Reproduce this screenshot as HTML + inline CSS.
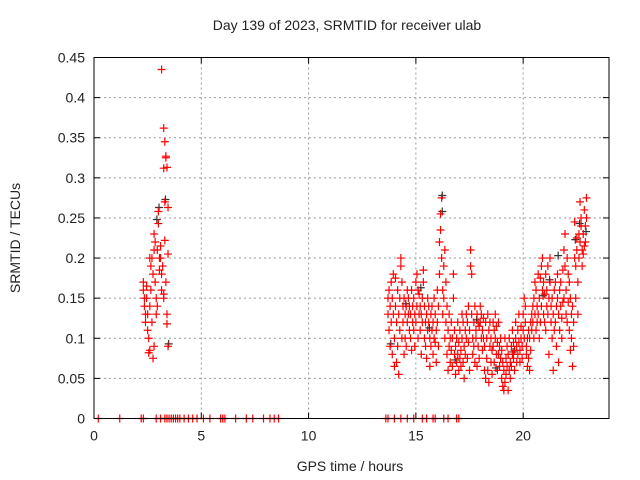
<!DOCTYPE html>
<html><head><meta charset="utf-8"><style>
html,body{margin:0;padding:0;background:#fff}
svg{display:block}
text{font-family:"Liberation Sans",sans-serif;font-size:14px;fill:#222}
</style></head><body>
<svg id="chart" width="640" height="480">
<text x="347" y="30" text-anchor="middle">Day 139 of 2023, SRMTID for receiver ulab</text>
<text x="350" y="471" text-anchor="middle">GPS time / hours</text>
<text transform="translate(20,238) rotate(-90)" text-anchor="middle">SRMTID / TECUs</text>
<g id="grid"></g>
<g id="ticks"></g>
<g id="black"></g>
<g id="red"></g>
<rect x="94" y="57.5" width="515" height="361" fill="none" stroke="#000" stroke-width="1"/>
</svg>
<script>
const xTicks=[0,5,10,15,20];
const yTicks=[0,0.05,0.1,0.15,0.2,0.25,0.3,0.35,0.4,0.45];
const yTickLabels=["0","0.05","0.1","0.15","0.2","0.25","0.3","0.35","0.4","0.45"];
const zeroHours=[0.2,1.2,2.2,2.3,2.9,3.1,3.3,3.4,3.5,3.6,3.7,3.8,3.9,4.0,4.2,4.4,4.6,4.8,5.1,5.4,5.9,6.0,6.1,6.6,7.1,7.4,7.9,8.2,8.4,8.6,13.6,13.7,14.0,14.3,14.6,14.9,15.3,15.5,15.8,15.9,16.3,16.5,16.9,17.0];
const blackPoints=[[3.0,0.26],[3.3,0.27],[3.45,0.09],[2.9,0.245],[16.2,0.275],[16.2,0.255],[14.5,0.14],[15.2,0.16],[17.8,0.12],[19.5,0.08],[21.6,0.2],[22.4,0.22],[22.6,0.24],[20.9,0.15],[13.8,0.09],[16.8,0.07],[18.7,0.06],[21.2,0.17],[22.9,0.23],[15.6,0.11]];
const redPoints=[
[2.3,0.17],[2.3,0.16],[2.35,0.15],[2.35,0.14],[2.4,0.13],[2.4,0.12],[2.45,0.15],[2.45,0.165],[2.5,0.11],[2.5,0.13],[2.55,0.1],[2.55,0.082],[2.6,0.085],[2.6,0.14],[2.65,0.16],[2.65,0.19],[2.7,0.12],[2.7,0.2],[2.75,0.18],[2.75,0.075],[2.8,0.09],[2.8,0.23],[2.85,0.22],[2.85,0.17],[2.9,0.13],[2.9,0.15],[2.95,0.21],[2.95,0.14],[3.0,0.258],[3.0,0.243],[3.05,0.2],[3.05,0.185],[3.1,0.215],[3.1,0.2],[3.15,0.18],[3.15,0.16],[3.15,0.435],[3.2,0.19],[3.25,0.15],[3.25,0.312],[3.25,0.362],[3.3,0.345],[3.3,0.222],[3.35,0.327],[3.3,0.27],[3.35,0.17],[3.4,0.313],[3.4,0.13],[3.4,0.118],[3.45,0.263],[3.45,0.09],[3.45,0.205],[3.35,0.325],[3.25,0.155],[2.6,0.2],[2.8,0.21],
[13.7,0.15],[13.7,0.13],[13.75,0.11],[13.75,0.16],[13.8,0.09],[13.8,0.14],[13.85,0.17],[13.85,0.12],[13.9,0.08],[13.9,0.15],[13.95,0.18],[13.95,0.13],[14.0,0.065],[14.0,0.1],[14.05,0.14],[14.05,0.175],[14.1,0.07],[14.1,0.12],[14.15,0.16],[14.15,0.09],[14.2,0.055],[14.2,0.13],[14.25,0.15],[14.25,0.11],[14.3,0.2],[14.3,0.19],[14.35,0.17],[14.35,0.1],[14.4,0.14],[14.4,0.12],[14.45,0.15],[14.45,0.08],[14.5,0.13],[14.5,0.1],[14.55,0.14],[14.55,0.09],[14.6,0.16],[14.6,0.12],[14.65,0.13],[14.65,0.15],[14.7,0.11],[14.7,0.14],[14.75,0.1],[14.75,0.13],[14.8,0.16],[14.8,0.085],[14.85,0.12],[14.85,0.14],[14.9,0.15],[14.9,0.11],[14.95,0.13],[14.95,0.09],[15.0,0.17],[15.0,0.12],[15.05,0.18],[15.05,0.14],[15.1,0.16],[15.1,0.1],[15.15,0.13],[15.15,0.155],[15.2,0.11],[15.2,0.14],[15.25,0.08],[15.25,0.13],[15.3,0.12],[15.3,0.15],[15.35,0.185],[15.35,0.17],[15.4,0.1],[15.4,0.14],[15.45,0.09],[15.45,0.12],[15.5,0.13],[15.5,0.075],[15.55,0.15],[15.55,0.11],[15.6,0.12],[15.6,0.14],[15.65,0.1],[15.65,0.065],[15.7,0.13],[15.7,0.09],[15.75,0.11],[15.75,0.14],[15.8,0.12],[15.8,0.08],[15.85,0.1],[15.85,0.15],[15.9,0.095],[15.9,0.13],[15.95,0.11],[15.95,0.07],[16.0,0.12],[16.0,0.16],[16.05,0.14],[16.05,0.09],[16.1,0.22],[16.1,0.18],[16.15,0.255],[16.15,0.235],[16.2,0.275],[16.2,0.2],[16.25,0.16],[16.25,0.13],[16.3,0.19],[16.3,0.15],[16.35,0.21],[16.35,0.1],[16.4,0.17],[16.4,0.12],[16.45,0.08],[16.45,0.14],[16.5,0.11],[16.5,0.06],[16.55,0.09],[16.55,0.13],[16.6,0.07],[16.6,0.1],[16.65,0.12],[16.65,0.085],[16.7,0.065],[16.7,0.1],[16.75,0.18],[16.75,0.15],[16.8,0.08],[16.8,0.11],[16.85,0.055],[16.85,0.09],[16.9,0.1],[16.9,0.07],[16.95,0.12],[16.95,0.08],[17.0,0.06],[17.0,0.095],[17.05,0.11],[17.05,0.075],[17.1,0.085],[17.1,0.065],[17.15,0.1],[17.15,0.13],[17.2,0.07],[17.2,0.12],[17.25,0.09],[17.25,0.05],[17.3,0.11],[17.3,0.08],[17.35,0.13],[17.35,0.1],[17.4,0.075],[17.4,0.12],[17.45,0.095],[17.45,0.14],[17.5,0.06],[17.5,0.11],[17.55,0.21],[17.55,0.19],[17.6,0.18],[17.6,0.13],[17.65,0.1],[17.65,0.08],[17.7,0.12],[17.7,0.09],[17.75,0.14],[17.75,0.07],[17.8,0.11],[17.8,0.1],[17.85,0.13],[17.85,0.065],[17.9,0.12],[17.9,0.09],[17.95,0.115],[17.95,0.075],[18.0,0.14],[18.0,0.12],[18.05,0.1],[18.05,0.13],[18.1,0.11],[18.1,0.085],[18.15,0.125],[18.15,0.1],[18.2,0.09],[18.2,0.06],[18.25,0.12],[18.25,0.05],[18.3,0.1],[18.3,0.075],[18.35,0.13],[18.35,0.06],[18.4,0.11],[18.4,0.045],[18.45,0.09],[18.45,0.12],[18.5,0.07],[18.5,0.1],[18.55,0.055],[18.55,0.085],[18.6,0.12],[18.6,0.09],[18.65,0.11],[18.65,0.07],[18.7,0.13],[18.7,0.1],[18.75,0.08],[18.75,0.115],[18.8,0.06],[18.8,0.095],[18.85,0.12],[18.85,0.08],[18.9,0.09],[18.9,0.065],[18.95,0.075],[18.95,0.1],[19.0,0.05],[19.0,0.085],[19.05,0.04],[19.05,0.07],[19.1,0.035],[19.1,0.06],[19.15,0.1],[19.15,0.045],[19.2,0.075],[19.2,0.055],[19.25,0.065],[19.25,0.09],[19.3,0.035],[19.3,0.08],[19.35,0.06],[19.35,0.1],[19.4,0.07],[19.4,0.05],[19.45,0.09],[19.45,0.065],[19.5,0.08],[19.5,0.11],[19.55,0.075],[19.55,0.095],[19.6,0.085],[19.6,0.06],[19.65,0.1],[19.65,0.12],[19.7,0.07],[19.7,0.09],[19.75,0.11],[19.75,0.08],[19.8,0.095],[19.8,0.13],[19.85,0.085],[19.85,0.07],[19.9,0.1],[19.9,0.115],[19.95,0.09],[19.95,0.075],[20.0,0.11],[20.0,0.13],[20.05,0.15],[20.05,0.1],[20.1,0.12],[20.1,0.14],[20.15,0.09],[20.15,0.08],[20.2,0.1],[20.2,0.065],[20.25,0.11],[20.25,0.075],[20.3,0.06],[20.3,0.1],[20.35,0.085],[20.35,0.12],[20.4,0.13],[20.4,0.11],[20.45,0.14],[20.45,0.12],[20.5,0.1],[20.5,0.15],[20.55,0.13],[20.55,0.17],[20.6,0.11],[20.6,0.16],[20.65,0.14],[20.65,0.12],[20.7,0.18],[20.7,0.13],[20.75,0.15],[20.75,0.1],[20.8,0.12],[20.8,0.175],[20.85,0.14],[20.85,0.19],[20.9,0.2],[20.9,0.16],[20.95,0.13],[20.95,0.17],[21.0,0.155],[21.0,0.12],[21.05,0.18],[21.05,0.11],[21.1,0.14],[21.1,0.16],[21.15,0.19],[21.15,0.13],[21.2,0.08],[21.2,0.15],[21.25,0.2],[21.25,0.17],[21.3,0.12],[21.3,0.14],[21.35,0.1],[21.35,0.15],[21.4,0.06],[21.4,0.13],[21.45,0.11],[21.45,0.16],[21.5,0.17],[21.5,0.12],[21.55,0.14],[21.55,0.09],[21.6,0.15],[21.6,0.18],[21.65,0.13],[21.65,0.07],[21.7,0.16],[21.7,0.11],[21.75,0.14],[21.75,0.17],[21.8,0.125],[21.8,0.1],[21.85,0.145],[21.85,0.185],[21.9,0.21],[21.9,0.15],[21.95,0.23],[21.95,0.19],[22.0,0.13],[22.0,0.16],[22.05,0.2],[22.05,0.12],[22.1,0.145],[22.1,0.18],[22.15,0.17],[22.15,0.11],[22.2,0.15],[22.2,0.085],[22.25,0.13],[22.25,0.1],[22.3,0.065],[22.3,0.14],[22.35,0.12],[22.35,0.09],[22.4,0.245],[22.4,0.2],[22.45,0.19],[22.45,0.15],[22.5,0.225],[22.5,0.21],[22.55,0.17],[22.55,0.13],[22.6,0.23],[22.6,0.2],[22.65,0.27],[22.65,0.22],[22.7,0.24],[22.7,0.25],[22.75,0.21],[22.75,0.19],[22.8,0.23],[22.8,0.205],[22.85,0.26],[22.85,0.215],[22.9,0.22],[22.9,0.24],[22.95,0.275],[22.95,0.25]
];
const NS="http://www.w3.org/2000/svg";
const L=94,R=609,T=57.5,B=418.5,XMAX=24,YMAX=0.45;
function sx(h){return L+(R-L)*h/XMAX;}
function sy(v){return B-(B-T)*v/YMAX;}
function mk(tag,attrs,parent){const e=document.createElementNS(NS,tag);for(const k in attrs)e.setAttribute(k,attrs[k]);parent.appendChild(e);return e;}
const grid=document.getElementById('grid'),ticks=document.getElementById('ticks');
yTicks.forEach((v,i)=>{
  const y=sy(v);
  if(i>0&&i<yTicks.length-1){const g=mk('line',{x1:L,x2:R,y1:y,y2:y,stroke:'#999','stroke-dasharray':'2,3'},grid);
  
  }
  mk('line',{x1:L,x2:L+6,y1:y,y2:y,stroke:'#000'},ticks);
  mk('line',{x1:R,x2:R-6,y1:y,y2:y,stroke:'#000'},ticks);
  const t=mk('text',{x:L-9,y:y+5,'text-anchor':'end'},ticks);t.textContent=yTickLabels[i];
  
  
});
xTicks.forEach(h=>{
  const x=sx(h);
  if(h>0){const g=mk('line',{x1:x,x2:x,y1:T,y2:B,stroke:'#999','stroke-dasharray':'2,3'},grid);
  
  }
  mk('line',{x1:x,x2:x,y1:B,y2:B-6,stroke:'#000'},ticks);
  mk('line',{x1:x,x2:x,y1:T,y2:T+6,stroke:'#000'},ticks);
  const t=mk('text',{x:x,y:B+22,'text-anchor':'middle'},ticks);t.textContent=String(h);
  
  
});
function plus(g,h,v,color){
  const x=sx(h),y=sy(v);
  const p=mk('path',{d:`M${x-4} ${y}H${x+4}M${x} ${y-4}V${y+4}`,stroke:color,'stroke-width':1.2,fill:'none'},g);
  
  
}
const bg=document.getElementById('black'),rg=document.getElementById('red');
blackPoints.forEach(p=>plus(bg,p[0]+0.03,p[1]+0.003,'#333'));
redPoints.forEach(p=>plus(rg,p[0],p[1],'#f00'));
zeroHours.forEach(h=>plus(rg,h,0,'#f00'));
</script>
</body></html>
